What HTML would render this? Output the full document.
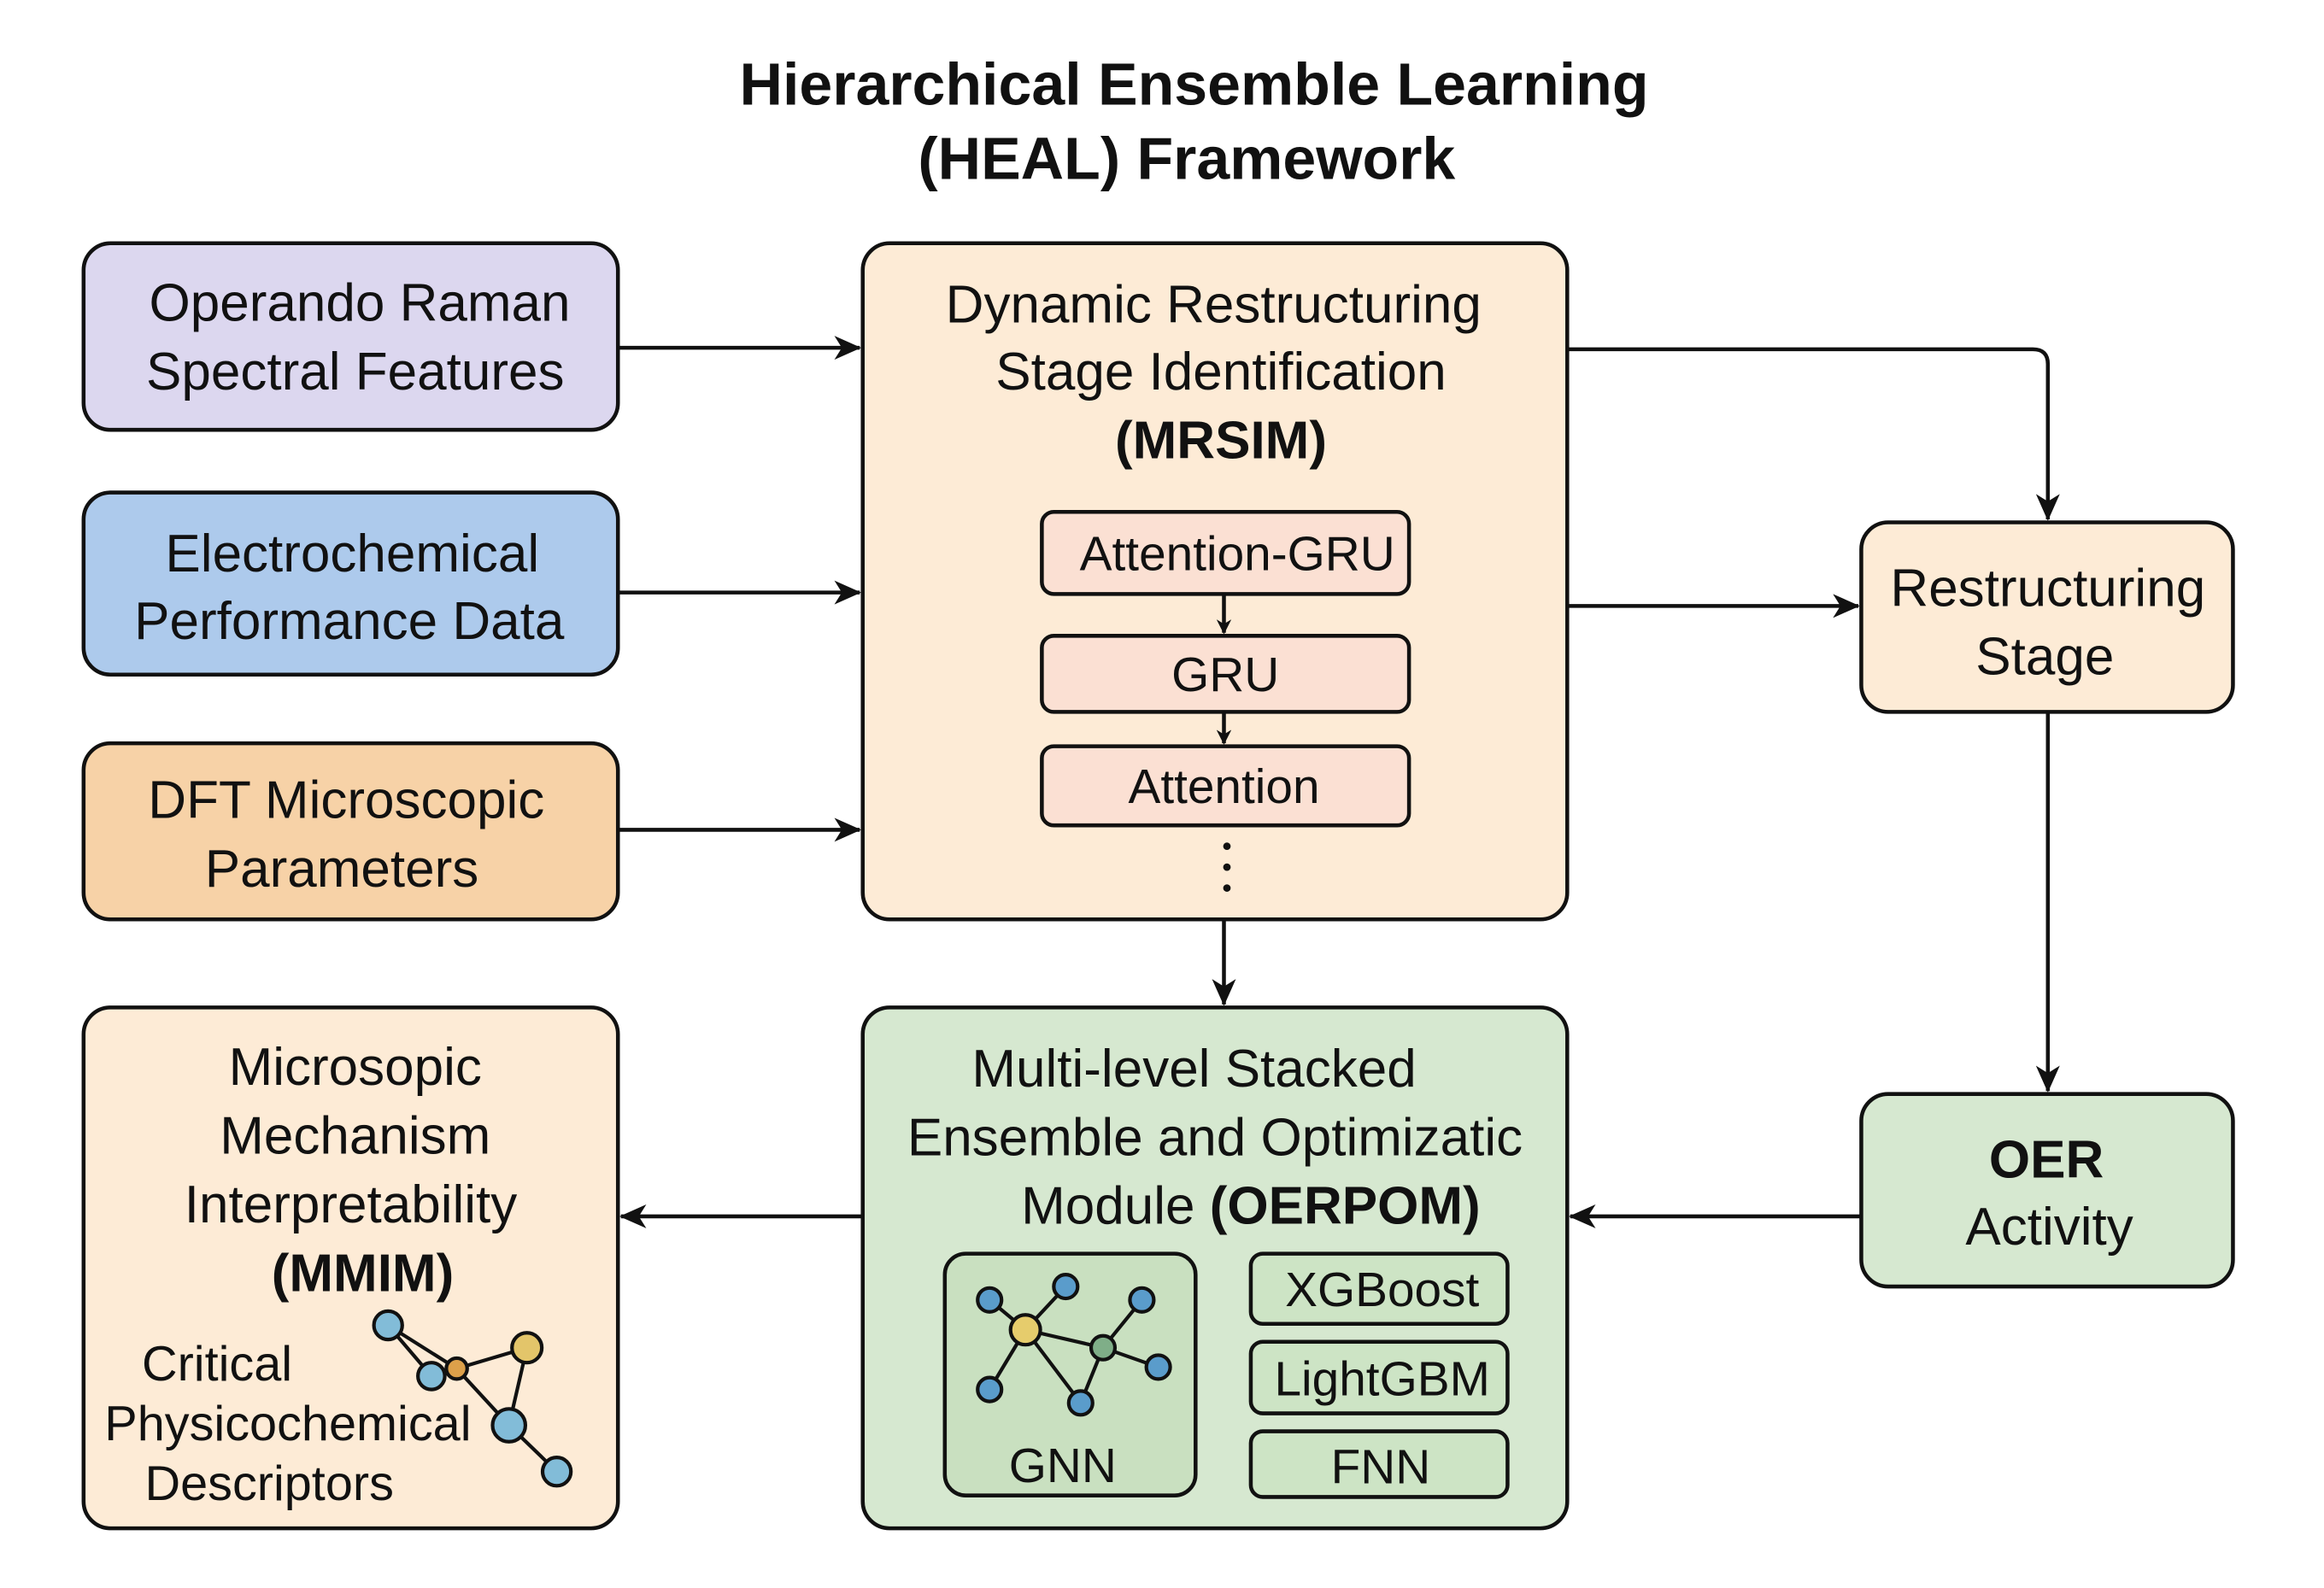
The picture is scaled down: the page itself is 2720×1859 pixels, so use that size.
<!DOCTYPE html>
<html><head><meta charset="utf-8"><style>
html,body{margin:0;padding:0;background:#fff;}
svg{display:block;}
text{font-family:"Liberation Sans",Arial,sans-serif;fill:#111;}
</style></head><body>
<svg width="2720" height="1859" viewBox="0 0 1557 1064" preserveAspectRatio="none" xmlns="http://www.w3.org/2000/svg">
<defs>
<marker id="ah" markerWidth="10" markerHeight="10" refX="9" refY="5" orient="auto" markerUnits="userSpaceOnUse">
<path d="M0,0 L10,5 L0,10 L3,5 Z" fill="#111"/>
</marker>
<marker id="ahs" markerWidth="18" markerHeight="16" refX="17" refY="8" orient="auto" markerUnits="userSpaceOnUse">
<path d="M0,0 L18,8 L0,16 L5,8 Z" fill="#111"/>
</marker>
</defs>
<rect width="1557" height="1064" fill="#fff"/>
<text x="800" y="70" text-anchor="middle" font-size="40" font-weight="bold">Hierarchical Ensemble Learning</text>
<text x="795" y="120" text-anchor="middle" font-size="40" font-weight="bold">(HEAL) Framework</text>

<g stroke="#111" stroke-width="2.6">
<rect x="56" y="163" width="358" height="125" rx="18" fill="#dcd7ef"/>
<rect x="56" y="330" width="358" height="122" rx="18" fill="#adcaec"/>
<rect x="56" y="498" width="358" height="118" rx="18" fill="#f7d2a7"/>
<rect x="56" y="675" width="358" height="349" rx="18" fill="#fdebd6"/>
<rect x="578" y="163" width="472" height="453" rx="18" fill="#fdebd6"/>
<rect x="578" y="675" width="472" height="349" rx="18" fill="#d6e8d0"/>
<rect x="1247" y="350" width="249" height="127" rx="18" fill="#fdebd6"/>
<rect x="1247" y="733" width="249" height="129" rx="18" fill="#d6e8d0"/>
<rect x="698" y="343" width="246" height="55" rx="8" fill="#fbe0d3"/>
<rect x="698" y="426" width="246" height="51" rx="8" fill="#fbe0d3"/>
<rect x="698" y="500" width="246" height="53" rx="8" fill="#fbe0d3"/>
<rect x="633" y="840" width="168" height="162" rx="14" fill="#c9e0c0"/>
<rect x="838" y="840" width="172" height="47" rx="8" fill="#cde4c5"/>
<rect x="838" y="899" width="172" height="48" rx="8" fill="#cde4c5"/>
<rect x="838" y="959" width="172" height="44" rx="8" fill="#cde4c5"/>
</g>

<g font-size="35.5" text-anchor="middle">
<text x="241" y="215">Operando Raman</text>
<text x="238" y="261">Spectral Features</text>
<text x="236" y="383">Electrochemical</text>
<text x="234" y="428">Performance Data</text>
<text x="232" y="548">DFT Microscopic</text>
<text x="229" y="594">Parameters</text>
<text x="238" y="727">Microsopic</text>
<text x="238" y="773">Mechanism</text>
<text x="235" y="819">Interpretability</text>
<text x="243" y="865" font-weight="bold">(MMIM)</text>
<text x="813" y="216">Dynamic Restructuring</text>
<text x="818" y="261">Stage Identification</text>
<text x="818" y="307" font-weight="bold">(MRSIM)</text>
<text x="800" y="728">Multi-level Stacked</text>
<text x="814" y="774">Ensemble and Optimizatic</text>
<text x="838" y="820">Module <tspan font-weight="bold">(OERPOM)</tspan></text>
<text x="1372" y="406">Restructuring</text>
<text x="1370" y="452">Stage</text>
<text x="1371" y="789" font-weight="bold">OER</text>
<text x="1373" y="834">Activity</text>
</g>
<g font-size="32.5" text-anchor="middle">
<text x="829" y="382">Attention-GRU</text>
<text x="821" y="463">GRU</text>
<text x="820" y="538">Attention</text>
<text x="712" y="993">GNN</text>
<text x="926" y="875">XGBoost</text>
<text x="926" y="935">LightGBM</text>
<text x="925" y="994">FNN</text>
</g>
<g font-size="33">
<text x="95" y="925">Critical</text>
<text x="70" y="965">Physicochemical</text>
<text x="97" y="1005">Descriptors</text>
</g>

<g fill="#111"><circle cx="822" cy="567" r="2.5"/><circle cx="822" cy="581" r="2.5"/><circle cx="822" cy="595" r="2.5"/></g>

<g stroke="#111" stroke-width="2.6" fill="none">
<line x1="414" y1="233" x2="576" y2="233" marker-end="url(#ahs)"/>
<line x1="414" y1="397" x2="576" y2="397" marker-end="url(#ahs)"/>
<line x1="414" y1="556" x2="576" y2="556" marker-end="url(#ahs)"/>
<line x1="1050" y1="406" x2="1245" y2="406" marker-end="url(#ahs)"/>
<path d="M1050,234 L1362,234 Q1372,234 1372,244 L1372,348" marker-end="url(#ahs)"/>
<line x1="1372" y1="477" x2="1372" y2="731" marker-end="url(#ahs)"/>
<line x1="1247" y1="815" x2="1052" y2="815" marker-end="url(#ahs)"/>
<line x1="578" y1="815" x2="416" y2="815" marker-end="url(#ahs)"/>
<line x1="820" y1="616" x2="820" y2="673" marker-end="url(#ahs)"/>
<line x1="820" y1="398" x2="820" y2="424" marker-end="url(#ah)"/>
<line x1="820" y1="477" x2="820" y2="498" marker-end="url(#ah)"/>
</g>

<g stroke="#111" stroke-width="2.4">
<line x1="663" y1="871" x2="687" y2="891"/>
<line x1="714" y1="862" x2="687" y2="891"/>
<line x1="687" y1="891" x2="739" y2="903"/>
<line x1="687" y1="891" x2="663" y2="931"/>
<line x1="687" y1="891" x2="724" y2="940"/>
<line x1="739" y1="903" x2="765" y2="871"/>
<line x1="739" y1="903" x2="776" y2="916"/>
<line x1="739" y1="903" x2="724" y2="940"/>
<circle cx="663" cy="871" r="8" fill="#5a9ccb"/>
<circle cx="714" cy="862" r="8" fill="#5a9ccb"/>
<circle cx="765" cy="871" r="8" fill="#5a9ccb"/>
<circle cx="776" cy="916" r="8" fill="#5a9ccb"/>
<circle cx="663" cy="931" r="8" fill="#5a9ccb"/>
<circle cx="724" cy="940" r="8" fill="#5a9ccb"/>
<circle cx="687" cy="891" r="10" fill="#e6cc6c"/>
<circle cx="739" cy="903" r="8" fill="#7fae88"/>
</g>

<g stroke="#111" stroke-width="2.4">
<line x1="260" y1="888" x2="289" y2="922"/>
<line x1="260" y1="888" x2="306" y2="917"/>
<line x1="306" y1="917" x2="353" y2="903"/>
<line x1="306" y1="917" x2="341" y2="955"/>
<line x1="353" y1="903" x2="341" y2="955"/>
<line x1="341" y1="955" x2="373" y2="986"/>
<circle cx="260" cy="888" r="9.5" fill="#82bcd8"/>
<circle cx="289" cy="922" r="9" fill="#82bcd8"/>
<circle cx="306" cy="917" r="7" fill="#dca04a"/>
<circle cx="353" cy="903" r="10" fill="#e3c56a"/>
<circle cx="341" cy="955" r="11" fill="#82bcd8"/>
<circle cx="373" cy="986" r="9.5" fill="#82bcd8"/>
</g>
</svg>
</body></html>
